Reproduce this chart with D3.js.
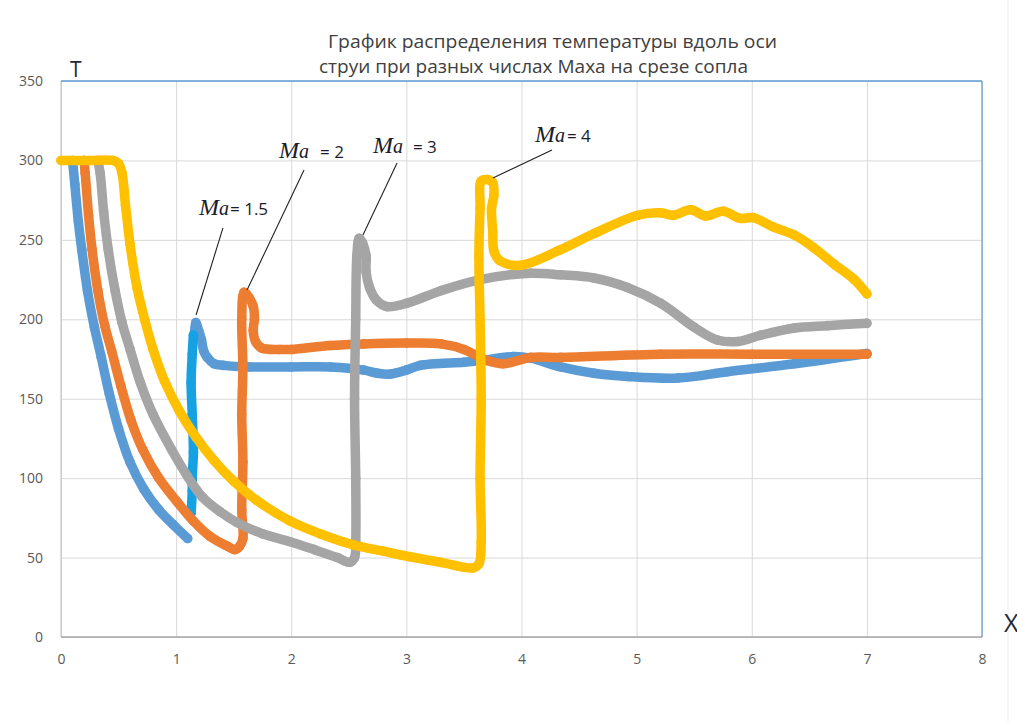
<!DOCTYPE html>
<html>
<head>
<meta charset="utf-8">
<script src="https://cdn.jsdelivr.net/npm/d3@7"></script>
<style>
  body { margin: 0; background: #fff; }
  svg { display: block; }
</style>
</head>
<body>
<svg id="chart" width="1017" height="722"></svg>
<script>
// Axis ticks
const xTicks = [0, 1, 2, 3, 4, 5, 6, 7, 8];
const yTicks = [0, 50, 100, 150, 200, 250, 300, 350];

// Title lines
const titleLines = [
  "График распределения температуры вдоль оси",
  "струи при разных числах Маха на срезе сопла"
];

// Ma = 1.5 (blue): cooling curve, then jump top and plateau
const ma15X = [0.10, 0.12, 0.15, 0.18, 0.23, 0.29, 0.35, 0.42, 0.50, 0.60, 0.72, 0.85, 0.97, 1.10];
const ma15T = [300, 285, 262, 244, 218, 195, 176, 153, 131, 110, 93, 80, 71, 62];
const ma15TailX = [1.16, 1.17, 1.20, 1.22, 1.24, 1.27, 1.33, 1.41, 1.64, 2.00, 2.34, 2.63, 2.75, 2.86, 3.00, 3.12, 3.50, 3.64, 3.93, 4.08, 4.34, 4.63, 4.92, 5.36, 5.79, 6.37, 7.00];
const ma15TailT = [192, 198, 192, 187, 180, 176, 172, 171, 170, 170, 170, 168, 166, 165.5, 168, 171, 173, 174, 176.5, 175.5, 170, 166, 164, 163, 167, 172, 178.5];
// Ma = 1.5 shock jump (bright blue)
const ma15JumpX = [1.13, 1.14, 1.14, 1.15, 1.14, 1.13, 1.14, 1.15];
const ma15JumpT = [78, 92, 101, 116, 140, 160, 178, 190];

// Ma = 2 (orange)
const ma2X = [0.20, 0.21, 0.24, 0.27, 0.32, 0.38, 0.44, 0.52, 0.61, 0.71, 0.85, 1.01, 1.15, 1.30, 1.45, 1.51,
              1.55, 1.58, 1.57, 1.58, 1.57, 1.58, 1.57, 1.59, 1.63, 1.67, 1.68, 1.67, 1.69, 1.74, 1.90, 2.00,
              2.34, 2.63, 3.00, 3.30, 3.50, 3.70, 3.84, 4.08, 4.34, 5.21, 6.00, 7.00];
const ma2T = [300, 292, 265, 244, 218, 196, 180, 158, 136, 118, 100, 85, 73, 63, 57, 55,
              57, 62, 80, 110, 140, 170, 200, 217, 214, 208, 200, 193, 186, 182, 181, 181,
              183.5, 184.5, 185, 184.5, 181, 174, 172, 176, 176, 178, 178, 178];

// Ma = 3 (gray)
const ma3X = [0.32, 0.34, 0.37, 0.41, 0.47, 0.53, 0.60, 0.69, 0.80, 0.96, 1.10, 1.23, 1.38, 1.53, 1.75, 1.99, 2.20, 2.40, 2.51,
              2.55, 2.56, 2.56, 2.55, 2.56, 2.57, 2.59, 2.62, 2.65, 2.65, 2.68, 2.74, 2.83, 3.00, 3.30,
              3.64, 4.08, 4.34, 4.63, 4.92, 5.21, 5.50, 5.70, 5.88, 6.08, 6.37, 6.66, 7.00];
const ma3T = [300, 292, 268, 244, 218, 198, 181, 160, 140, 118, 101, 88, 79, 72, 65, 60, 55, 50, 47,
              50, 60, 100, 150, 200, 240, 251, 248, 240, 230, 220, 212, 208, 210, 218,
              225, 229, 228, 226, 220, 210, 195, 187, 186, 190, 194.5, 196, 197.5];

// Ma = 4 (yellow)
const ma4X = [0.00, 0.25, 0.45, 0.50, 0.53, 0.56, 0.60, 0.66, 0.73, 0.80, 0.90, 1.03, 1.17, 1.33, 1.50, 1.70, 1.99, 2.25, 2.54, 2.80, 3.03, 3.30, 3.58,
              3.63, 3.65, 3.64, 3.65, 3.64, 3.63, 3.64, 3.65, 3.70, 3.75, 3.76, 3.74, 3.75, 3.76, 3.81, 3.99,
              4.33, 4.63, 5.01, 5.21, 5.32, 5.47, 5.60, 5.75, 5.90, 6.01, 6.19, 6.37, 6.54, 6.71, 6.89, 7.00];
const ma4T = [300, 300, 300, 298, 292, 272, 247, 220, 199, 181, 161, 142, 126, 111, 98, 86, 73, 65, 58, 54, 50.5, 47, 43.5,
              46, 60, 100, 150, 200, 240, 270, 287, 288, 286, 278, 270, 255, 243, 237, 234,
              243.5, 254, 265.5, 267, 265.5, 269, 265, 268, 263.5, 264, 258, 253, 245, 235, 225, 216];

// Callout labels: Mach number, label anchor and leader line (data units)
const machLabels = ["1.5", "2", "3", "4"];
const labelX = [1.199, 1.894, 2.710, 4.117];
const labelT = [265.6, 301.5, 304.7, 311.6];
const leaderX1 = [1.407, 2.111, 2.919, 4.265];
const leaderT1 = [257.5, 294.0, 298.4, 306.6];
const leaderX2 = [1.173, 1.616, 2.623, 3.752];
const leaderT2 = [202.7, 218.4, 253.0, 289.0];

const zip = (xs, ts) => xs.map((x, i) => ({ x, t: ts[i] }));

const series = [
  { pts: zip(ma15X, ma15T), color: "#5B9BD5" },
  { pts: zip(ma15TailX, ma15TailT), color: "#5B9BD5" },
  { pts: zip(ma15JumpX, ma15JumpT), color: "#16A1E3" },
  { pts: zip(ma2X, ma2T), color: "#ED7D31" },
  { pts: zip(ma3X, ma3T), color: "#A5A5A5" },
  { pts: zip(ma4X, ma4T), color: "#FFC000" }
];

const svg = d3.select("#chart");
svg.append("rect").attr("width", 1017).attr("height", 722).attr("fill", "#fff");

const pLeft = 61, pRight = 982, pTop = 81, pBottom = 637;
const x = d3.scaleLinear().domain([0, 8]).range([pLeft, pRight]);
const y = d3.scaleLinear().domain([0, 350]).range([pBottom, pTop]);

// faint edge line at the far right
svg.append("line").attr("x1", 1008).attr("x2", 1008).attr("y1", 0).attr("y2", 722)
  .attr("stroke", "#ECECEC").attr("stroke-width", 1);

// grid
svg.append("g").attr("transform", `translate(0,${pBottom})`)
  .call(d3.axisBottom(x).tickValues(xTicks).tickSize(-(pBottom - pTop)).tickFormat(""))
  .call(g => g.select(".domain").remove())
  .call(g => g.selectAll("line").attr("stroke", "#D9D9D9").attr("stroke-width", 1));
svg.append("g").attr("transform", `translate(${pLeft},0)`)
  .call(d3.axisLeft(y).tickValues(yTicks).tickSize(-(pRight - pLeft)).tickFormat(""))
  .call(g => g.select(".domain").remove())
  .call(g => g.selectAll("line").attr("stroke", "#D9D9D9").attr("stroke-width", 1));

// plot frame: gray left/bottom, blue top/right
svg.append("line").attr("x1", pLeft).attr("x2", pLeft).attr("y1", pTop).attr("y2", pBottom)
  .attr("stroke", "#BFBFBF");
svg.append("line").attr("x1", pLeft).attr("x2", pRight).attr("y1", pBottom).attr("y2", pBottom)
  .attr("stroke", "#A6A6A6").attr("stroke-width", 1.5);
svg.append("line").attr("x1", pLeft).attr("x2", pRight).attr("y1", pTop).attr("y2", pTop)
  .attr("stroke", "#5B9BD5").attr("stroke-width", 1.5);
svg.append("line").attr("x1", pRight).attr("x2", pRight).attr("y1", pTop).attr("y2", pBottom)
  .attr("stroke", "#5B9BD5").attr("stroke-width", 1.2);

// tick labels
svg.append("g").attr("transform", `translate(${pLeft},0)`)
  .call(d3.axisLeft(y).tickValues(yTicks).tickSize(0).tickPadding(18))
  .call(g => g.select(".domain").remove())
  .call(g => g.selectAll("text").attr("fill", "#595959")
    .attr("font-family", "'Open Sans', 'Noto Sans', sans-serif").attr("font-size", 14));
svg.append("g").attr("transform", `translate(0,${pBottom})`)
  .call(d3.axisBottom(x).tickValues(xTicks).tickSize(0).tickPadding(17))
  .call(g => g.select(".domain").remove())
  .call(g => g.selectAll("text").attr("fill", "#595959")
    .attr("font-family", "'Open Sans', 'Noto Sans', sans-serif").attr("font-size", 14));

// axis names
svg.append("text").attr("x", 70).attr("y", 77).text("T")
  .attr("font-family", "'Open Sans', sans-serif").attr("font-size", 21).attr("fill", "#1F2A36");
svg.append("text").attr("x", 1004).attr("y", 632).text("X")
  .attr("font-family", "'Open Sans', sans-serif").attr("font-size", 25).attr("fill", "#1F2A36");

// title
const titleX = [328, 319], titleY = [48, 73], titleW = [449, 429];
svg.selectAll("text.title").data(titleLines).join("text")
  .attr("class", "title")
  .attr("x", (d, i) => titleX[i]).attr("y", (d, i) => titleY[i])
  .attr("textLength", (d, i) => titleW[i]).attr("lengthAdjust", "spacingAndGlyphs")
  .attr("font-family", "'Open Sans', 'Noto Sans', sans-serif").attr("font-size", 19)
  .attr("fill", "#404040").text(d => d);

// series: thick marker trails
const line = d3.line().x(d => x(d.x)).y(d => y(d.t)).curve(d3.curveCatmullRom.alpha(0.5));
const gS = svg.append("g");
series.forEach(s => {
  gS.append("path").datum(s.pts).attr("d", line)
    .attr("fill", "none").attr("stroke", s.color).attr("stroke-width", 9.5)
    .attr("stroke-linecap", "round").attr("stroke-linejoin", "round");
  gS.append("g").selectAll("circle").data(s.pts).join("circle")
    .attr("cx", d => x(d.x)).attr("cy", d => y(d.t)).attr("r", 4.8).attr("fill", s.color);
});

// callouts
const gA = svg.append("g");
const valueGap = [1, 11, 10, 2];
machLabels.forEach((m, i) => {
  gA.append("line")
    .attr("x1", x(leaderX1[i])).attr("y1", y(leaderT1[i]))
    .attr("x2", x(leaderX2[i])).attr("y2", y(leaderT2[i]))
    .attr("stroke", "#222").attr("stroke-width", 1.1);
  const t = gA.append("text").attr("x", x(labelX[i])).attr("y", y(labelT[i])).attr("fill", "#1B1B2A");
  t.append("tspan").text("M").attr("font-family", "'Liberation Serif', serif")
    .attr("font-style", "italic").attr("font-size", 24);
  t.append("tspan").text("a").attr("font-family", "'Liberation Serif', serif")
    .attr("font-style", "italic").attr("font-size", 20);
  t.append("tspan").attr("dx", valueGap[i]).text("= " + m)
    .attr("font-family", "'Open Sans', sans-serif").attr("font-size", 17);
});
</script>
</body>
</html>
